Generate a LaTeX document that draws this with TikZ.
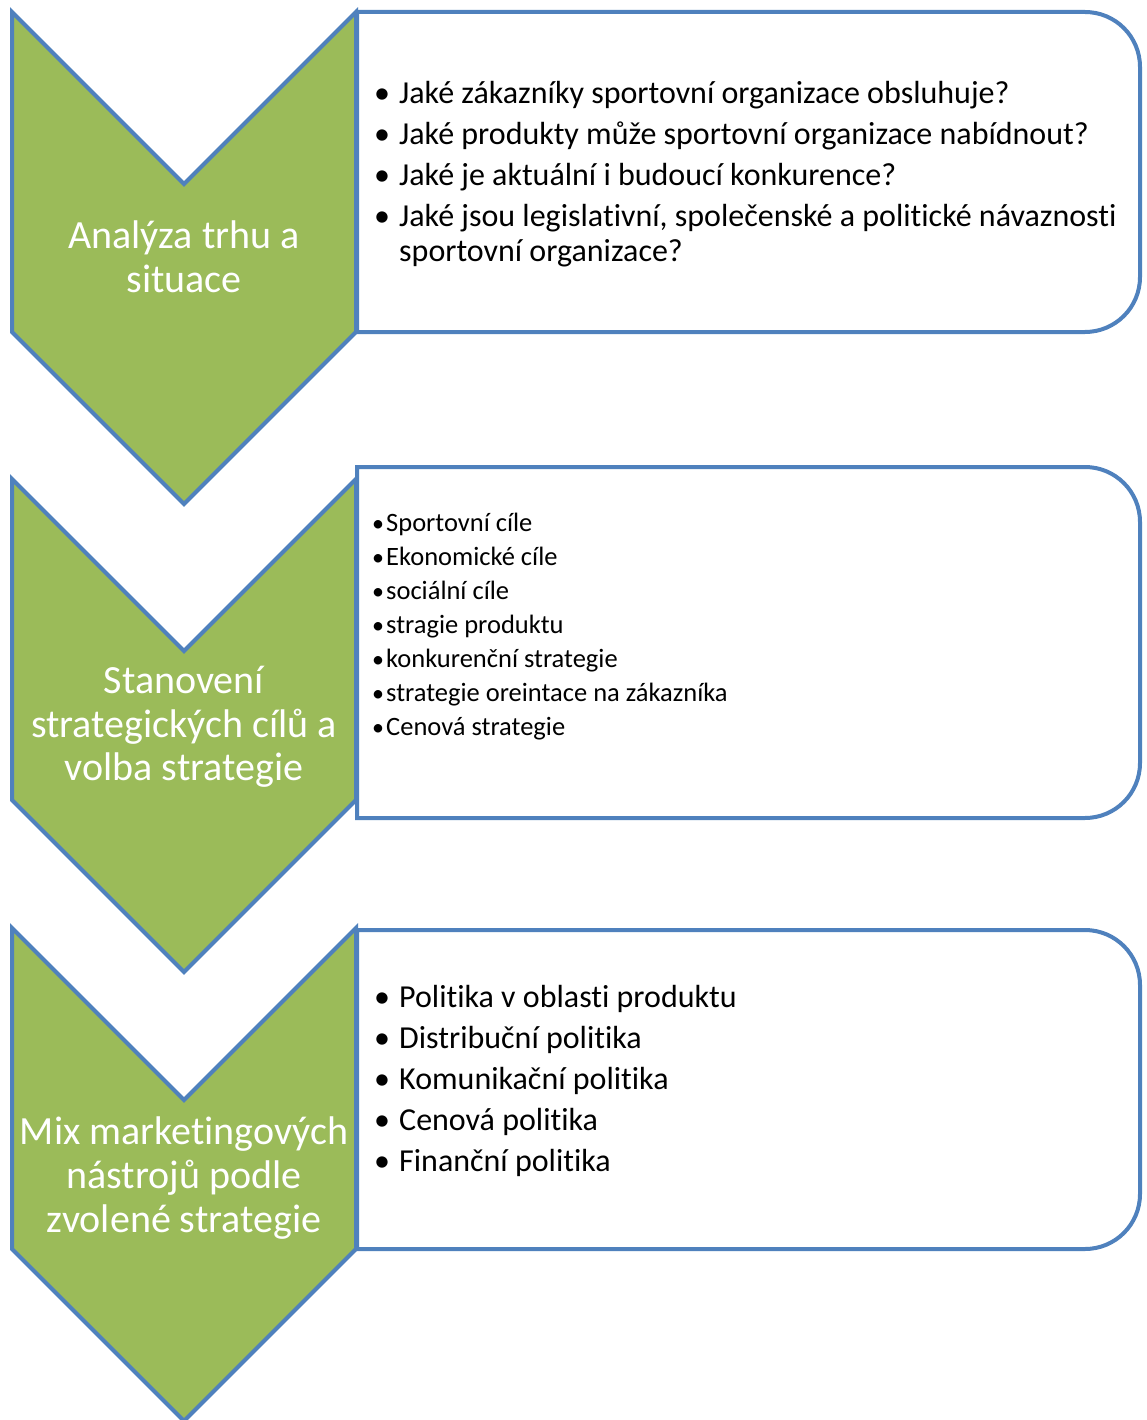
\documentclass[tikz,border=0pt]{standalone}
\usepackage{fontspec}
\setmainfont{Carlito}[RawFeature={-liga}]
\definecolor{chgreen}{HTML}{9BBB59}
\definecolor{chblue}{HTML}{4F81BD}
\tikzset{
  chev/.style={fill=chgreen, draw=chblue, line width=4pt, line join=miter},
  rbox/.style={fill=white, draw=chblue, line width=4pt, line join=miter},
  chtext/.style={text=white, font=\fontsize{40}{44}\selectfont, anchor=base, inner sep=0pt},
  itemA/.style={font=\fontsize{32}{35}\selectfont, anchor=base west, inner sep=0pt},
  bulA/.style={font=\fontsize{32}{35}\selectfont, anchor=base, inner sep=0pt},
  itemB/.style={font=\fontsize{26.5}{30}\selectfont, anchor=base west, inner sep=0pt},
  bulB/.style={font=\fontsize{24}{30}\selectfont, anchor=base, inner sep=0pt}
}
\begin{document}
\begin{tikzpicture}[x=1pt,y=-1pt]
\useasboundingbox (0,0) rectangle (1147,1420);
\fill[white] (0,0) rectangle (1147,1420);

% chevrons
\draw[chev] (12,12) -- (184,184) -- (356,12) -- (356,332) -- (184,504) -- (12,332) -- cycle;
\draw[chev] (12,479) -- (184,651) -- (356,479) -- (356,800) -- (184,972) -- (12,800) -- cycle;
\draw[chev] (12,928) -- (184,1100) -- (356,928) -- (356,1249) -- (184,1421) -- (12,1249) -- cycle;

% boxes
\draw[rbox] (357,12) -- (1085,12) arc[start angle=-90, end angle=0, radius=55] -- (1140,277) arc[start angle=0, end angle=90, radius=55] -- (357,332) -- cycle;
\draw[rbox] (357,467) -- (1085,467) arc[start angle=-90, end angle=0, radius=55] -- (1140,763) arc[start angle=0, end angle=90, radius=55] -- (357,818) -- cycle;
\draw[rbox] (357,930) -- (1085,930) arc[start angle=-90, end angle=0, radius=55] -- (1140,1194) arc[start angle=0, end angle=90, radius=55] -- (357,1249) -- cycle;

% chevron texts
\node[chtext] (c1a) at (184,249) {Analýza trhu a};
\node[chtext] (c1b) at (184,293) {situace};
\node[chtext] (c2a) at (184,693) {Stanovení};
\node[chtext] (c2b) at (184,737) {strategických cílů a};
\node[chtext] (c2c) at (184,780) {volba strategie};
\node[chtext] (c3a) at (184,1144) {Mix marketingových};
\node[chtext] (c3b) at (184,1188) {nástrojů podle};
\node[chtext] (c3c) at (184,1232) {zvolené strategie};

% box 1
\node[bulA] (b1a) at (382,104) {•};
\node[itemA] (t1a) at (399,104) {Jaké zákazníky sportovní organizace obsluhuje?};
\node[bulA] (b1b) at (382,145) {•};
\node[itemA] (t1b) at (399,145) {Jaké produkty může sportovní organizace nabídnout?};
\node[bulA] (b1c) at (382,186) {•};
\node[itemA] (t1c) at (399,186) {Jaké je aktuální i budoucí konkurence?};
\node[bulA] (b1d) at (382,227) {•};
\node[itemA] (t1d) at (399,227) {Jaké jsou legislativní, společenské a politické návaznosti};
\node[itemA] (t1e) at (399,262) {sportovní organizace?};

% box 2
\node[bulB] (b2a) at (378,531) {•};
\node[itemB] (t2a) at (386,531) {Sportovní cíle};
\node[bulB] (b2b) at (378,565) {•};
\node[itemB] (t2b) at (386,565) {Ekonomické cíle};
\node[bulB] (b2c) at (378,599) {•};
\node[itemB] (t2c) at (386,599) {sociální cíle};
\node[bulB] (b2d) at (378,633) {•};
\node[itemB] (t2d) at (386,633) {stragie produktu};
\node[bulB] (b2e) at (378,667) {•};
\node[itemB] (t2e) at (386,667) {konkurenční strategie};
\node[bulB] (b2f) at (378,701) {•};
\node[itemB] (t2f) at (386,701) {strategie oreintace na zákazníka};
\node[bulB] (b2g) at (378,735) {•};
\node[itemB] (t2g) at (386,735) {Cenová strategie};

% box 3
\node[bulA] (b3a) at (382,1007) {•};
\node[itemA] (t3a) at (399,1007) {Politika v oblasti produktu};
\node[bulA] (b3b) at (382,1048) {•};
\node[itemA] (t3b) at (399,1048) {Distribuční politika};
\node[bulA] (b3c) at (382,1089) {•};
\node[itemA] (t3c) at (399,1089) {Komunikační politika};
\node[bulA] (b3d) at (382,1130) {•};
\node[itemA] (t3d) at (399,1130) {Cenová politika};
\node[bulA] (b3e) at (382,1171) {•};
\node[itemA] (t3e) at (399,1171) {Finanční politika};
\end{tikzpicture}
\end{document}
